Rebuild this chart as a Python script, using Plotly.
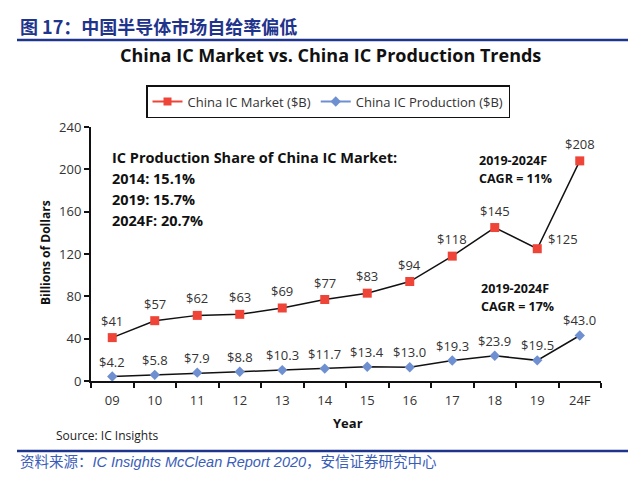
import plotly.graph_objects as go

# ── Data ─────────────────────────────────────────────────────────────────────
years = ["09", "10", "11", "12", "13", "14", "15", "16", "17", "18", "19", "24F"]
market = [41, 57, 62, 63, 69, 77, 83, 94, 118, 145, 125, 208]
production = [4.2, 5.8, 7.9, 8.8, 10.3, 11.7, 13.4, 13.0, 19.3, 23.9, 19.5, 43.0]

share_lines = [
    "IC Production Share of China IC Market:",
    "2014: 15.1%",
    "2019: 15.7%",
    "2024F: 20.7%",
]
market_cagr = ["2019-2024F", "CAGR = 11%"]
prod_cagr = ["2019-2024F", "CAGR = 17%"]

header = "图 17：中国半导体市场自给率偏低"
title = "China IC Market vs. China IC Production Trends"
footer = "资料来源：<i>IC Insights McClean Report 2020</i>，安信证券研究中心"

# ── Layout helpers (screen pixel -> paper) ──────────────────────────────────
# the page body has an 8px margin, so the figure is drawn 8px smaller
OFF = 8
W_PX, H_PX = 640 - OFF, 483 - OFF
L, R, T, B = 91, 601, 127, 381   # plot area in screen pixels


def px(x):
    return (x - L) / (R - L)


def py(y):
    return (B - y) / (B - T)


FONT = "Open Sans, Liberation Sans, sans-serif"
RED = "#EF4438"
BLUE = "#6E8FD0"
NAVY = "#1F348C"

fig = go.Figure()


def note(x, y, text, size, color="#111111", family=FONT, xanchor="center", **kw):
    fig.add_annotation(
        xref="paper", yref="paper", x=px(x), y=py(y), xanchor=xanchor, yanchor="middle",
        showarrow=False, text=text, font=dict(family=family, size=size, color=color), **kw,
    )


# chart lines (black connectors, coloured markers)
fig.add_trace(go.Scatter(
    x=years, y=market, mode="lines+markers", showlegend=False,
    line=dict(color="#111111", width=1.5),
    marker=dict(symbol="square", size=9, color=RED),
))
fig.add_trace(go.Scatter(
    x=years, y=production, mode="lines+markers", showlegend=False,
    line=dict(color="#111111", width=1.5),
    marker=dict(symbol="diamond", size=8, color=BLUE),
))
# legend entries (coloured line + marker)
fig.add_trace(go.Scatter(
    x=[None], y=[None], mode="lines+markers", name="China IC Market ($B)",
    line=dict(color=RED, width=2), marker=dict(symbol="square", size=8, color=RED),
))
fig.add_trace(go.Scatter(
    x=[None], y=[None], mode="lines+markers", name="China IC Production ($B)",
    line=dict(color=BLUE, width=2), marker=dict(symbol="diamond", size=8, color=BLUE),
))

# data labels (x as category index)
for i, (yr, v) in enumerate(zip(years, market)):
    right = yr == "19"
    fig.add_annotation(
        x=i, y=v, text=f"${v}", showarrow=False, xanchor="center", yanchor="middle",
        xshift=26 if right else 0, yshift=10 if right else 17,
        font=dict(family=FONT, size=13, color="#333333"),
    )
for i, v in enumerate(production):
    fig.add_annotation(
        x=i, y=v, text=f"${v:.1f}", showarrow=False, xanchor="center", yanchor="middle",
        yshift=15, font=dict(family=FONT, size=13, color="#333333"),
    )

# text blocks
for k, line in enumerate(share_lines):
    note(110, 157 + 21 * k, f"<b>{line}</b>", 14.5, xanchor="left")
for k, line in enumerate(market_cagr):
    note(477, 160 + 18 * k, f"<b>{line}</b>", 12.5, xanchor="left")
for k, line in enumerate(prod_cagr):
    note(479, 288 + 18 * k, f"<b>{line}</b>", 12.5, xanchor="left")

# titles / header / footer
note(330, 55, f"<b>{title}</b>", 18)
note(18, 26, f"<b>{header}</b>", 18, color=NAVY, family="Noto Sans CJK SC", xanchor="left")
note(18, 462, footer, 14.5, color="#3A5DB8",
     family="Liberation Sans, Noto Sans CJK SC", xanchor="left")
note(54, 435, "Source: IC Insights", 12, color="#222222", xanchor="left")
note(45, 253, "<b>Billions of Dollars</b>", 12, textangle=-90)
note(348, 423, "<b>Year</b>", 13)

# blue rules
for yline in (40, 451):
    fig.add_shape(
        type="line", xref="paper", yref="paper",
        x0=px(17), x1=px(628), y0=py(yline), y1=py(yline),
        line=dict(color=NAVY, width=2.5),
    )

fig.update_layout(
    width=W_PX, height=H_PX,
    margin=dict(l=L - OFF, r=640 - R, t=T - OFF, b=483 - B),
    paper_bgcolor="white", plot_bgcolor="white",
    legend=dict(
        orientation="h", x=px(328), xanchor="center", y=py(85), yanchor="top",
        bordercolor="#111111", borderwidth=1.5,
        font=dict(family=FONT, size=13, color="#333333"),
        itemwidth=30, tracegroupgap=0,
    ),
    xaxis=dict(
        type="category", categoryorder="array", categoryarray=years,
        range=[-0.5, len(years) - 0.5],
        showline=True, linecolor="#111111", linewidth=2,
        ticks="outside", tickson="boundaries", ticklen=5, tickwidth=1.5, tickcolor="#111111",
        tickfont=dict(family=FONT, size=13, color="#333333"),
        ticklabelstandoff=6, showgrid=False,
    ),
    yaxis=dict(
        range=[0, 240], dtick=40,
        showline=True, linecolor="#111111", linewidth=2,
        ticks="outside", ticklen=5, tickwidth=1.5, tickcolor="#111111",
        tickfont=dict(family=FONT, size=13, color="#333333"),
        showgrid=False, zeroline=False,
    ),
)

fig.write_html("out.html")
